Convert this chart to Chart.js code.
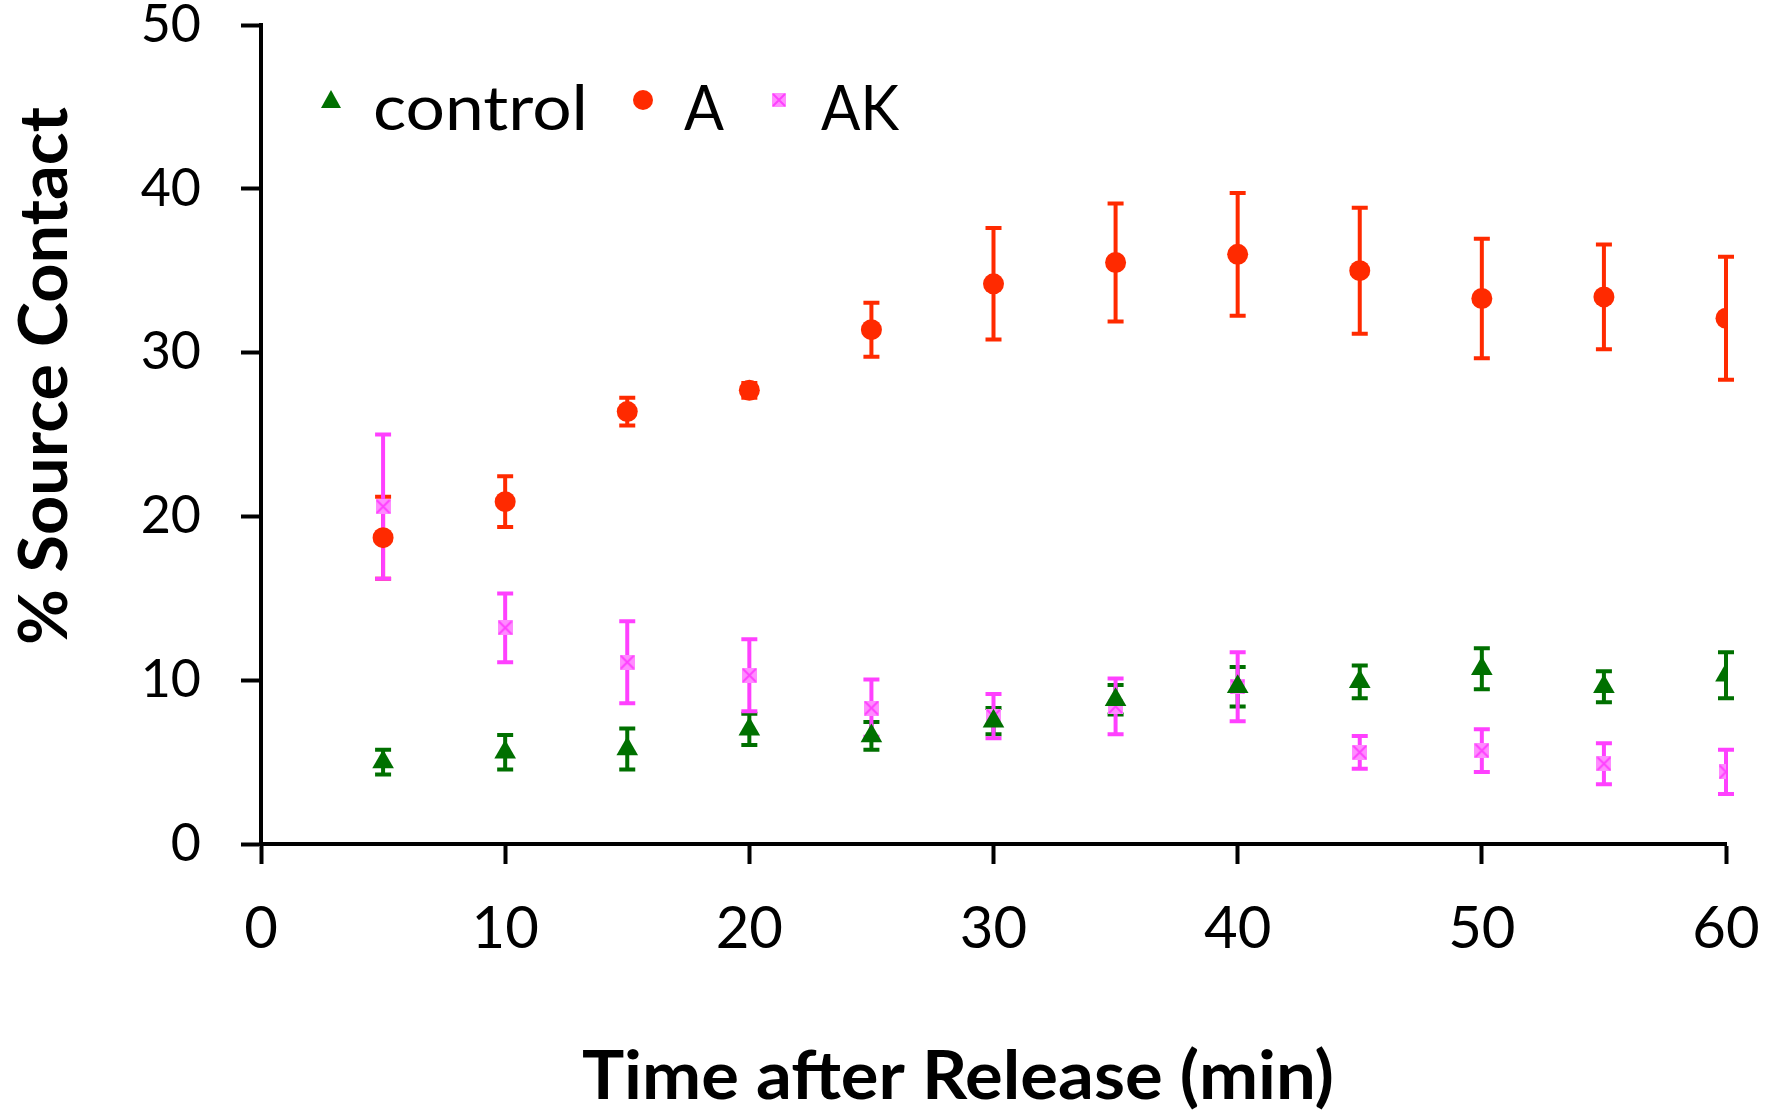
<!DOCTYPE html>
<html><head><meta charset="utf-8">
<script src="https://cdn.jsdelivr.net/npm/chart.js@4.4.1/dist/chart.umd.min.js"></script>
<style>html,body{margin:0;padding:0;background:#fff}#wrap{width:1773px;height:1111px;position:relative}</style>
</head><body><div id="wrap"><canvas id="c" width="1773" height="1111"></canvas></div>
<script>
// ---- data ----
const times = [5, 10, 15, 20, 25, 30, 35, 40, 45, 50, 55, 60];
const controlVals = [5.0, 5.6, 5.8, 7.0, 6.6, 7.5, 8.8, 9.6, 9.9, 10.7, 9.6, 10.3];
const controlErr  = [0.75, 1.05, 1.25, 0.95, 0.85, 0.8, 0.9, 1.2, 1.0, 1.25, 0.95, 1.4];
const aVals  = [18.7, 20.9, 26.4, 27.7, 31.4, 34.2, 35.5, 36.0, 35.0, 33.3, 33.4, 32.1];
const aErr   = [2.5, 1.55, 0.85, 0.45, 1.65, 3.4, 3.6, 3.75, 3.85, 3.65, 3.2, 3.75];
const akVals = [20.6, 13.2, 11.1, 10.3, 8.3, 7.8, 8.4, 9.6, 5.6, 5.7, 4.9, 4.4];
const akErr  = [4.4, 2.1, 2.5, 2.2, 1.75, 1.35, 1.7, 2.1, 1.0, 1.3, 1.25, 1.35];
const seriesNames = ['control', 'A', 'AK'];
const xTicks = [0, 10, 20, 30, 40, 50, 60];
const yTicks = [0, 10, 20, 30, 40, 50];
const xTitle = 'Time after Release (min)';
const yTitle = '% Source Contact';

const GREEN = '#007000', RED = '#ff2a00', PINK = '#ff40ff', PINKFILL = '#ff8cff';

function makeAK(size) {
  const c = document.createElement('canvas');
  c.width = size; c.height = size;
  const g = c.getContext('2d');
  g.fillStyle = PINKFILL; g.fillRect(0, 0, size, size);
  g.strokeStyle = PINK; g.lineWidth = 2;
  g.beginPath(); g.moveTo(1, 1); g.lineTo(size - 1, size - 1);
  g.moveTo(size - 1, 1); g.lineTo(1, size - 1); g.stroke();
  return c;
}
const akImg = makeAK(15);
const akLegendImg = makeAK(14);

function pts(vals, errs) { return times.map((t, i) => ({ x: t, y: vals[i], e: errs[i] })); }

const errorBars = {
  id: 'errorBars',
  beforeDatasetsDraw(chart) {
    const { ctx, scales: { x, y } } = chart;
    chart.data.datasets.forEach(ds => {
      ctx.save();
      ctx.strokeStyle = ds.errColor; ctx.lineWidth = 4; ctx.lineCap = 'butt';
      ds.data.forEach(p => {
        const px = x.getPixelForValue(p.x);
        const y1 = y.getPixelForValue(p.y + p.e), y2 = y.getPixelForValue(p.y - p.e);
        ctx.beginPath();
        ctx.moveTo(px, y1); ctx.lineTo(px, y2);
        ctx.moveTo(px - 8, y1); ctx.lineTo(px + 8, y1);
        ctx.moveTo(px - 8, y2); ctx.lineTo(px + 8, y2);
        ctx.stroke();
      });
      ctx.restore();
    });
  }
};

function fitText(ctx, text, font, x, baseY, targetW, align) {
  ctx.font = font;
  const w = ctx.measureText(text).width;
  const sx = targetW / w;
  ctx.save();
  ctx.translate(x, baseY); ctx.scale(sx, 1);
  ctx.textAlign = align; ctx.textBaseline = 'alphabetic'; ctx.fillStyle = '#000';
  ctx.fillText(text, 0, 0);
  ctx.restore();
}

const decorations = {
  id: 'decorations',
  afterDraw(chart) {
    const ctx = chart.ctx;
    fitText(ctx, xTitle, 'bold 66px Lato', 958, 1099, 752, 'center');
    ctx.save();
    ctx.translate(67, 376); ctx.rotate(-Math.PI / 2);
    fitText(ctx, yTitle, 'bold 67px Lato', 0, 0, 538, 'center');
    ctx.restore();
    const my = 100;
    ctx.save();
    ctx.fillStyle = GREEN;
    ctx.beginPath(); ctx.moveTo(331, my - 10); ctx.lineTo(341, my + 8); ctx.lineTo(321, my + 8); ctx.closePath(); ctx.fill();
    ctx.fillStyle = RED;
    ctx.beginPath(); ctx.arc(643, my, 10, 0, Math.PI * 2); ctx.fill();
    ctx.drawImage(akLegendImg, 779 - 7, my - 7);
    ctx.restore();
    fitText(ctx, seriesNames[0], '62px Lato', 373, 130, 215, 'left');
    fitText(ctx, seriesNames[1], '62px Lato', 684, 130, 40, 'left');
    fitText(ctx, seriesNames[2], '62px Lato', 821, 130, 78, 'left');
  }
};

function noPad(s) { s.paddingTop = 0; s.paddingBottom = 0; s.paddingLeft = 0; s.paddingRight = 0; }

new Chart(document.getElementById('c'), {
  type: 'scatter',
  data: {
    datasets: [
      { label: seriesNames[0], data: pts(controlVals, controlErr), pointStyle: 'triangle', pointRadius: 12.5,
        backgroundColor: GREEN, borderColor: GREEN, borderWidth: 0, errColor: GREEN },
      { label: seriesNames[1], data: pts(aVals, aErr), pointStyle: 'circle', pointRadius: 10.5,
        backgroundColor: RED, borderColor: RED, borderWidth: 0, errColor: RED },
      { label: seriesNames[2], data: pts(akVals, akErr), pointStyle: akImg, pointRadius: 8,
        backgroundColor: PINKFILL, borderColor: PINK, borderWidth: 0, errColor: PINK }
    ]
  },
  options: {
    responsive: false, animation: false, devicePixelRatio: 1,
    layout: { padding: { top: 25, right: 47, left: 0, bottom: 0 } },
    plugins: { legend: { display: false }, tooltip: { enabled: false }, title: { display: false } },
    scales: {
      x: {
        type: 'linear', min: 0, max: 60,
        afterFit: s => { s.height = 267; noPad(s); },
        afterBuildTicks: s => { s.ticks = xTicks.map(v => ({ value: v })); },
        ticks: { font: { family: 'Lato', size: 58, lineHeight: 1 }, color: '#000', padding: 36, maxRotation: 0 },
        grid: { drawOnChartArea: false, drawTicks: true, tickLength: 20, tickWidth: 4, tickColor: '#000' },
        border: { display: true, color: '#000', width: 4 }
      },
      y: {
        type: 'linear', min: 0, max: 50,
        afterFit: s => { s.width = 261; noPad(s); },
        afterBuildTicks: s => { s.ticks = yTicks.map(v => ({ value: v })); },
        ticks: { font: { family: 'Lato', size: 52, lineHeight: 0.9 }, color: '#000', padding: 40 },
        grid: { drawOnChartArea: false, drawTicks: true, tickLength: 20, tickWidth: 4, tickColor: '#000' },
        border: { display: true, color: '#000', width: 4 }
      }
    }
  },
  plugins: [errorBars, decorations]
});
</script>
</body></html>
